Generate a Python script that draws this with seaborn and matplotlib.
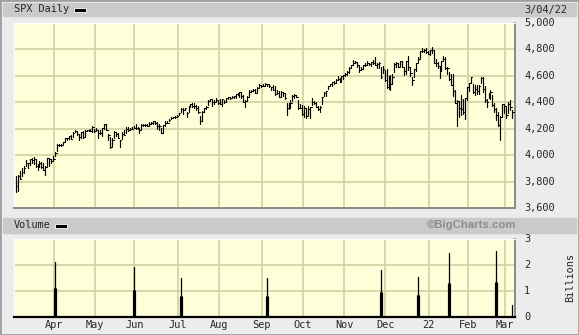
import numpy as np
import pandas as pd
import matplotlib
matplotlib.use("Agg")
import matplotlib.pyplot as plt
from matplotlib.patches import Rectangle
import seaborn as sns

# ---------------- data (S&P 500 daily, 3/04/21 .. 3/04/22) ----------------
high = [
 3844,3851,3881,3904,3918,3960,3944,3970,3981,3983,3970,3932,3956,3949,3942,3919,3978,3981,3968,3994,
 4021,4084,4086,4083,4098,4130,4131,4148,4151,4173,4192,4180,4160,4175,4179,4194,4194,4193,4201,4218,4199,
 4209,4187,4187,4202,4238,4236,4162,4134,4131,4183,4172,4170,4116,4172,4188,4210,4213,4202,4213,4218,
 4234,4212,4198,4234,4232,4237,4238,4249,4249,4255,4257,4252,4236,4204,4225,4256,4256,4271,4286,4292,4293,4302,
 4321,4355,4356,4359,4324,4372,4386,4394,4393,4376,4375,4296,4337,4359,4369,4415,4422,4416,4416,4429,4412,
 4422,4423,4418,4430,4441,4438,4445,4449,4461,4468,4480,4470,4454,4419,4444,4490,4492,4502,4498,4513,4538,4532,
 4538,4545,4540,4535,4519,4530,4521,4492,4486,4486,4478,4471,4394,4394,4416,4458,4463,4457,4419,4389,4382,
 4375,4356,4369,4365,4429,4413,4400,4375,4372,4439,4475,4486,4520,4539,4551,4560,4573,4598,4584,4597,4608,
 4621,4636,4664,4684,4719,4714,4708,4685,4664,4684,4698,4714,4701,4708,4717,4744,4694,4702,4665,4672,4646,
 4652,4596,4608,4612,4695,4706,4698,4713,4710,4660,4712,4752,4666,4591,4651,4698,4741,4791,4808,4804,4808,4787,
 4797,4819,4798,4725,4708,4673,4714,4749,4744,4666,4632,4611,4612,4494,4418,4411,4453,4428,4432,4516,
 4547,4595,4542,4529,4528,4531,4590,4589,4527,4427,4472,4490,4456,4395,4356,4324,4295,4385,4385,
 4375,4401,4417,4343,
]
low = [
 3723,3730,3819,3842,3867,3916,3903,3924,3939,3935,3914,3886,3911,3902,3889,3853,3918,3921,3944,3960,
 3992,4034,4068,4069,4082,4096,4114,4124,4120,4139,4173,4151,4118,4126,4128,4139,4182,4181,4181,4177,4174,
 4188,4128,4162,4148,4201,4188,4111,4057,4069,4127,4143,4126,4062,4122,4151,4166,4182,4189,4197,4203,
 4197,4198,4167,4198,4217,4219,4218,4229,4233,4234,4238,4196,4188,4165,4171,4217,4241,4256,4272,4281,4281,4287,
 4301,4326,4312,4339,4289,4329,4366,4366,4360,4338,4322,4234,4260,4329,4350,4382,4406,4372,4387,4409,4387,
 4385,4374,4398,4401,4424,4425,4431,4436,4435,4458,4437,4433,4400,4368,4407,4451,4481,4486,4469,4475,4514,4514,
 4522,4524,4521,4513,4494,4493,4457,4459,4439,4438,4448,4427,4305,4347,4360,4406,4430,4437,4346,4354,4307,
 4289,4279,4304,4278,4381,4384,4361,4343,4329,4386,4447,4448,4497,4520,4526,4535,4547,4570,4552,4562,4573,
 4596,4604,4621,4664,4681,4694,4670,4630,4648,4651,4673,4679,4684,4672,4691,4682,4663,4659,4586,4625,4560,
 4511,4504,4495,4540,4632,4667,4664,4671,4668,4607,4611,4647,4600,4531,4590,4637,4703,4733,4780,4778,4776,4765,
 4758,4774,4699,4671,4662,4582,4638,4718,4651,4614,4568,4530,4449,4395,4223,4287,4305,4309,4273,4414,
 4483,4544,4470,4452,4466,4466,4547,4477,4402,4365,4429,4424,4373,4327,4268,4222,4115,4287,4322,
 4279,4322,4345,4284,
]
close = [
 3768,3842,3821,3875,3899,3939,3943,3969,3963,3974,3915,3913,3941,3911,3889,3910,3975,3971,3959,3973,
 4020,4078,4074,4080,4097,4129,4128,4142,4125,4170,4185,4163,4135,4173,4135,4180,4188,4187,4183,4211,4181,
 4193,4165,4168,4202,4233,4188,4152,4063,4113,4174,4163,4128,4116,4159,4156,4197,4188,4196,4201,4204,
 4202,4208,4193,4230,4227,4227,4220,4239,4247,4255,4247,4224,4222,4166,4225,4246,4242,4266,4281,4291,4292,4298,
 4320,4352,4344,4358,4321,4370,4385,4369,4374,4360,4327,4258,4323,4359,4367,4412,4422,4401,4401,4419,4395,
 4387,4423,4403,4429,4437,4432,4437,4448,4461,4468,4480,4448,4400,4406,4442,4480,4486,4496,4470,4509,4529,4523,
 4524,4537,4535,4520,4514,4493,4459,4469,4443,4481,4474,4433,4358,4354,4396,4449,4455,4443,4353,4359,4308,
 4357,4300,4346,4364,4400,4391,4361,4351,4364,4438,4471,4486,4520,4536,4550,4545,4566,4575,4552,4596,4605,
 4614,4631,4661,4680,4698,4702,4685,4647,4649,4683,4683,4701,4689,4705,4698,4683,4691,4701,4595,4655,4567,
 4513,4577,4538,4592,4687,4701,4667,4712,4669,4634,4710,4669,4621,4568,4649,4697,4726,4791,4786,4793,4779,4766,
 4797,4794,4701,4696,4677,4670,4713,4726,4659,4663,4577,4533,4483,4398,4410,4356,4350,4327,4432,4516,
 4547,4589,4477,4501,4484,4522,4587,4504,4419,4402,4471,4475,4380,4349,4305,4226,4289,4385,4374,
 4306,4387,4363,4329,
]

# month labels (first trading day index of each month)
month_labels = ["Apr", "May", "Jun", "Jul", "Aug", "Sep", "Oct", "Nov", "Dec", "22", "Feb", "Mar"]
month_start_idx = [20, 41, 61, 83, 104, 126, 147, 168, 189, 211, 231, 250]

price_ticks = [3600, 3800, 4000, 4200, 4400, 4600, 4800, 5000]
price_tick_labels = ["3,600", "3,800", "4,000", "4,200", "4,400", "4,600", "4,800", "5,000"]

# volume (billions) as shown
vol_idx = [20, 60, 84, 128, 186, 205, 221, 245, 253]
vol_body = [1.08, 1.00, 0.77, 0.77, 0.93, 0.80, 1.26, 1.30, 0.0]
vol_wick = [2.10, 1.93, 1.50, 1.50, 1.81, 1.54, 2.47, 2.54, 0.45]
vol_ticks = [0, 1, 2, 3]

# ---------------- style ----------------
sns.set_style("white")
plt.rcParams["font.family"] = ["DejaVu Sans Mono"]

W, H = 579, 335
fig = plt.figure(figsize=(W / 100, H / 100), dpi=100)
fig.patch.set_facecolor("#ececec")

def fx(px):
    return px / W

def fy(py):
    return 1 - py / H

PLOT_BG = "#fefed8"
GRID = "#cdcd9c"
FS = 7.4

# header bands
for (y0, y1) in [(3, 16), (218, 233)]:
    fig.add_artist(Rectangle((fx(3), fy(y1)), fx(576 - 3), (y1 - y0) / H,
                             transform=fig.transFigure, color="#cacaca", zorder=0))
# figure border
fig.add_artist(Rectangle((0, 0), 1, 1, transform=fig.transFigure, fill=False,
                         edgecolor="#a0a0a0", lw=2.0, zorder=5))

n = len(close)
x = np.arange(n)
XMIN, XMAX = -1.0, 254.5

def style_axes(ax):
    ax.set_facecolor(PLOT_BG)
    ax.set_xlim(XMIN, XMAX)
    for g in month_start_idx:
        ax.axvline(g - 0.6, color=GRID, lw=1.1, zorder=0)
    ax.spines["top"].set_color("white")
    ax.spines["left"].set_color("white")
    ax.spines["right"].set_color("#8a8a8a")
    ax.spines["bottom"].set_color("#8a8a8a")
    for s in ["top", "left"]:
        ax.spines[s].set_linewidth(0.8)
    for s in ["right", "bottom"]:
        ax.spines[s].set_linewidth(1.4)
    ax.tick_params(length=0)

# ---------------- price panel ----------------
ax = fig.add_axes([fx(14), fy(208), fx(515 - 14), (208 - 23) / H])
style_axes(ax)
ax.set_ylim(3600, 5000)
for t in price_ticks[1:-1]:
    ax.axhline(t, color=GRID, lw=1.1, zorder=0)

hl = pd.DataFrame({
    "x": np.concatenate([x, x]),
    "y": np.concatenate([low, high]),
    "u": np.concatenate([x, x]),
})
sns.lineplot(data=hl, x="x", y="y", units="u", estimator=None, sort=False,
             color="black", lw=0.85, ax=ax, zorder=3)
ct = pd.DataFrame({
    "x": np.concatenate([x, x + 0.8]),
    "y": np.concatenate([close, close]),
    "u": np.concatenate([x, x]),
})
sns.lineplot(data=ct, x="x", y="y", units="u", estimator=None, sort=False,
             color="black", lw=0.75, ax=ax, zorder=3)
ax.set_xticks([])
ax.set_yticks([])
ax.set_xlabel("")
ax.set_ylabel("")

for t, lab in zip(price_ticks, price_tick_labels):
    fig.text(fx(524), fy(23 + (5000 - t) / 1400 * 185), lab, fontsize=FS,
             ha="left", va="center")

fig.text(fx(14), fy(9.5), "SPX Daily", fontsize=FS, ha="left", va="center")
fig.add_artist(Rectangle((fx(74), fy(12)), fx(12), 4 / H, transform=fig.transFigure,
                         facecolor="black", edgecolor="white", lw=0.6))
fig.text(fx(524), fy(9.5), "3/04/22", fontsize=FS, ha="left", va="center")

# ---------------- volume panel ----------------
axv = fig.add_axes([fx(14), fy(317), fx(515 - 14), (317 - 239) / H])
style_axes(axv)
axv.spines["bottom"].set_color("black")
axv.spines["bottom"].set_linewidth(1.6)
axv.set_ylim(0, 3)
for t in vol_ticks[1:-1]:
    axv.axhline(t, color=GRID, lw=1.1, zorder=0)

vb = pd.DataFrame({"x": vol_idx, "body": vol_body, "wick": vol_wick})
wk = pd.DataFrame({
    "x": np.concatenate([vb.x, vb.x]),
    "y": np.concatenate([np.zeros(len(vb)), vb.wick]),
    "u": np.concatenate([vb.x, vb.x]),
})
sns.lineplot(data=wk, x="x", y="y", units="u", estimator=None, sort=False,
             color="black", lw=0.9, ax=axv, zorder=3)
bd = pd.DataFrame({
    "x": np.concatenate([vb.x, vb.x]),
    "y": np.concatenate([np.zeros(len(vb)), vb.body]),
    "u": np.concatenate([vb.x, vb.x]),
})
sns.lineplot(data=bd, x="x", y="y", units="u", estimator=None, sort=False,
             color="black", lw=2.3, ax=axv, zorder=3)
axv.set_yticks([])
axv.set_xticks([])
axv.set_xlabel("")
axv.set_ylabel("")

for t in vol_ticks:
    fig.text(fx(524), fy(317 - t / 3 * 78), str(t), fontsize=FS, ha="left", va="center")
fig.text(fx(570), fy(278), "Billions", fontsize=FS, rotation=90, ha="center", va="center")

for g, lab in zip(month_start_idx, month_labels):
    px = 14 + (g - 0.6 - XMIN) / (XMAX - XMIN) * (515 - 14)
    fig.text(fx(px), fy(325.5), lab, fontsize=FS, ha="center", va="center")

fig.text(fx(14), fy(225.5), "Volume", fontsize=FS, ha="left", va="center")
fig.add_artist(Rectangle((fx(55), fy(227.5)), fx(12), 4 / H, transform=fig.transFigure,
                         facecolor="black", edgecolor="white", lw=0.6))
fig.text(fx(516), fy(225.5), "\u00a9BigCharts.com", fontsize=8.2, fontweight="bold",
         family=["Liberation Sans", "DejaVu Sans"], color="#8c8c8c", ha="right", va="center")

fig.savefig("out.png", dpi=100, facecolor=fig.get_facecolor())
